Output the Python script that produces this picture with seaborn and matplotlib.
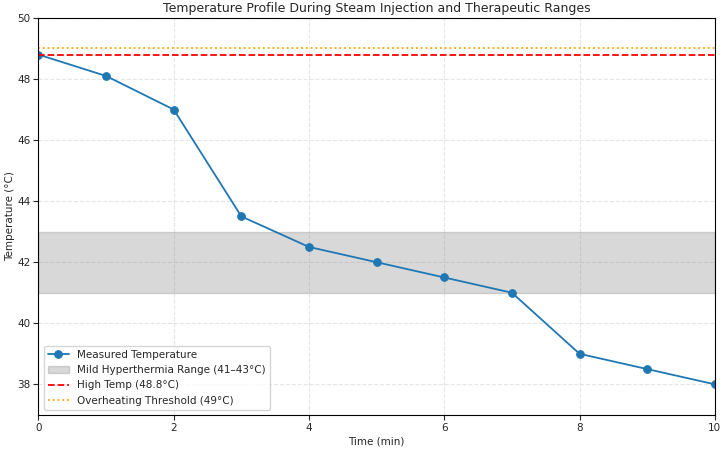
import matplotlib
matplotlib.use("Agg")
import matplotlib.pyplot as plt
import pandas as pd
import seaborn as sns

# data
time_min = [0, 1, 2, 3, 4, 5, 6, 7, 8, 9, 10]
temperature = [48.8, 48.1, 47.0, 43.5, 42.5, 42.0, 41.5, 41.0, 39.0, 38.5, 38.0]
band_low, band_high = 41, 43
high_temp = 48.8
overheat = 49

sns.set_style("white")
plt.rcParams['font.family'] = ['DejaVu Sans']
plt.rcParams['font.size'] = 7.5

df = pd.DataFrame({"time": time_min, "temp": temperature})

fig = plt.figure(figsize=(7.25, 4.49), dpi=100)
ax = fig.add_axes([0.053, 0.076, 0.933, 0.884])

sns.lineplot(data=df, x="time", y="temp", marker="o", color="#1f77b4",
             markeredgecolor="#1f77b4", markersize=5.5, linewidth=1.3,
             label="Measured Temperature", ax=ax)
ax.axhspan(band_low, band_high, color="gray", alpha=0.3,
           label="Mild Hyperthermia Range (41\u201343\u00b0C)")
ax.axhline(high_temp, color="red", linestyle="--", linewidth=1.3,
           label="High Temp (48.8\u00b0C)")
ax.axhline(overheat, color="orange", linestyle=":", linewidth=1.3,
           label="Overheating Threshold (49\u00b0C)")

ax.set_xlim(0, 10)
ax.set_ylim(37, 50)
ax.set_yticks([38, 40, 42, 44, 46, 48, 50])
ax.grid(True, linestyle="--", alpha=0.5)
for s in ax.spines.values():
    s.set_color("black")
    s.set_linewidth(0.8)
ax.tick_params(axis="both", labelsize=7.5, length=3.5, width=0.8, pad=2,
               left=True, bottom=True)

ax.set_title("Temperature Profile During Steam Injection and Therapeutic Ranges",
             fontsize=9, pad=4)
ax.set_xlabel("Time (min)", fontsize=7.5, labelpad=3)
ax.set_ylabel("Temperature (\u00b0C)", fontsize=7.5, labelpad=2)
ax.legend(loc="lower left", fontsize=7.5, frameon=True)

fig.savefig("out.png", dpi=100)
